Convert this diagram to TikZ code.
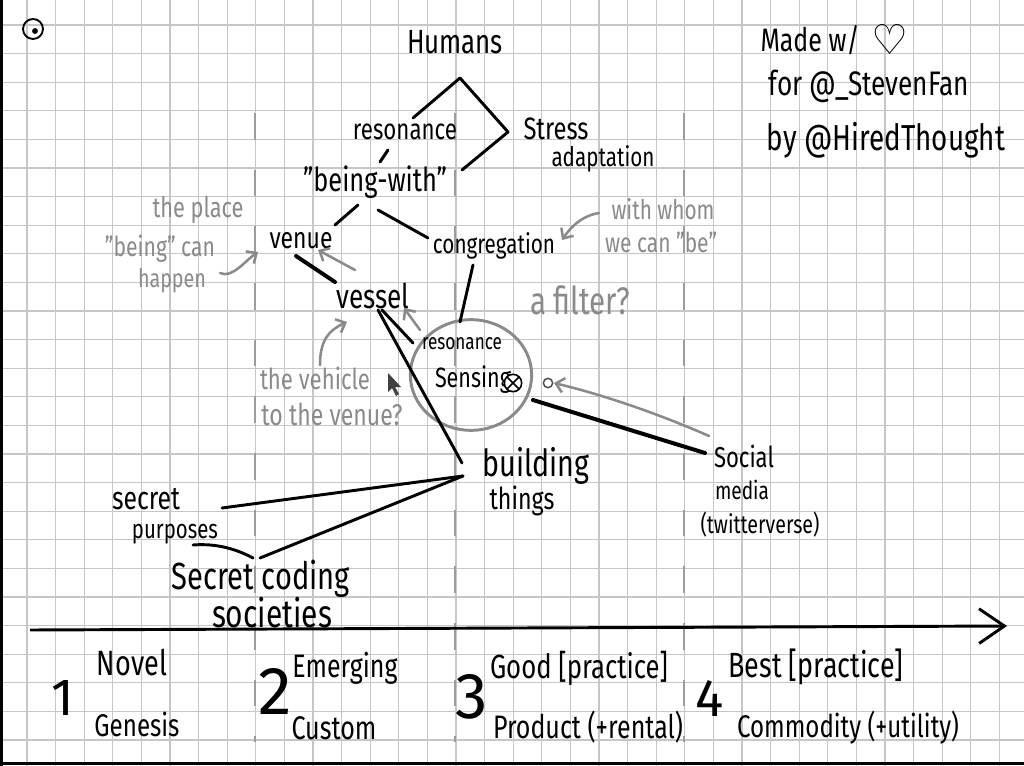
\documentclass[tikz,border=0pt]{standalone}
\usepackage{fontspec}
\usepackage{graphicx}
\setmainfont{Fira Sans}
\newfontfamily\symfont{DejaVu Sans}
\usetikzlibrary{arrows.meta,shapes.geometric}
\definecolor{notegray}{HTML}{8A8A8A}
\definecolor{gridc}{HTML}{C6C6C6}
\definecolor{dashc}{HTML}{9C9C9C}
\newcommand\fw[2]{\scalebox{1}[1.3]{\resizebox{\dimexpr 0.75pt*#1\relax}{!}{#2}}}
\newcommand\fh[2]{\resizebox{!}{\dimexpr 0.75pt*#1\relax}{#2}}
\begin{document}
\begin{tikzpicture}[x=0.75pt,y=-0.75pt,
  every node/.style={inner sep=0pt,outer sep=0pt},
  hw/.style={text=black},
  note/.style={text=notegray},
  gridline/.style={draw=gridc,line width=0.9pt},
  dashline/.style={draw=dashc,line width=1.6pt,dash pattern=on 20pt off 22.5pt},
  edge/.style={draw=black,line width=2.2pt,line cap=round,line join=round},
  garrow/.style={draw=notegray,line width=1.9pt,line cap=round,-{Straight Barb[length=6pt,width=11pt,line width=1.9pt]}}]
\useasboundingbox (0,0) rectangle (1024,766);
\fill[white] (0,0) rectangle (1024,766);
% grid
\foreach \i in {0,...,35} \draw[gridline] ({27+28.6*\i},0) -- ({27+28.6*\i},766);
\foreach \j in {0,...,25} \draw[gridline] (0,{25+28.6*\j}) -- (1024,{25+28.6*\j});
% frame
\draw[line width=2.4pt] (1.5,0) -- (1.5,766);
\draw[line width=2.4pt] (0,763.5) -- (1024,763.5);
% phase dividers
\draw[dashline] (255,113) -- (255,742);
\draw[dashline] (455,113) -- (455,742);
\draw[dashline] (684,113) -- (684,742);
% target mark
\node[draw,circle,line width=1.4pt,minimum size=15pt] (target) at (33,29) {};
\fill (target) ++(2,2) circle[radius=2.2pt];

% main nodes
\node[hw] (humans) at (455,42) {\fw{96}{Humans}};
\node[hw] (res) at (405,132) {\fw{104}{resonance}};
\node[hw] (stress) at (556,129) {\fw{65}{Stress}};
\node[hw] (adapt) at (603,159) {\fw{103}{adaptation}};
\node[hw] (being) at (375,182) {\fw{144}{"being-with"}};
\node[hw] (venue) at (301,241) {\fw{63}{venue}};
\node[hw] (congr) at (494,246) {\fw{122}{congregation}};
\node[hw] (vessel) at (373,296) {\fw{73}{vessel}};
\node[note] (place1) at (198,210) {\fw{91}{the place}};
\node[note] (place2) at (160,249) {\fw{110}{"being" can}};
\node[note] (place3) at (172,281) {\fw{68}{happen}};
\node[note] (whom1) at (663,209) {\fw{103}{with whom}};
\node[note] (whom2) at (661,242) {\fw{112}{we can "be"}};
\node[note] (filter) at (580,300) {\fw{100}{a filter?}};
\node[draw=notegray,line width=2.2pt,ellipse,minimum width=91pt,minimum height=83pt] (circ) at (471,375) {};
\node[hw] (rs1) at (462,344) {\fw{80}{resonance}};
\node[hw] (rs2) at (473,380) {\fw{76}{Sensing}};
\node[draw,fill=white,circle,line width=1.2pt,minimum size=13pt] (otimes) at (513,383) {};
\draw[line width=1.2pt] (otimes.45) -- (otimes.225) (otimes.135) -- (otimes.-45);
\node[draw=black!70,fill=white,circle,line width=1.1pt,minimum size=7pt] (smallc) at (548,383) {};
\fill[black!75] (388,373) -- (388,392) -- (392,388) -- (396,396) -- (399,394) -- (395,387) -- (401,387) -- cycle;
\node[note] (veh1) at (315,378) {\fw{110}{the vehicle}};
\node[note] (veh2) at (332,414) {\fw{141}{to the venue?}};
\node[hw] (build1) at (536,466) {\fw{107}{building}};
\node[hw] (build2) at (522,501) {\fw{65}{things}};
\node[hw] (soc1) at (744,456) {\fw{60}{Social}};
\node[hw] (soc2) at (742,490) {\fw{54}{media}};
\node[hw] (soc3) at (760,525) {\fw{119}{(twitterverse)}};
\node[hw] (sec1) at (146,499) {\fw{68}{secret}};
\node[hw] (sec2) at (175,534) {\fw{86}{purposes}};
\node[hw] (scs1) at (261,579) {\fw{178}{Secret coding}};
\node[hw] (scs2) at (272,613) {\fw{120}{societies}};

% axis
\coordinate (axL) at (30,630);
\coordinate (axR) at (1007,626);
\draw[line width=2.2pt,-{Straight Barb[length=19pt,width=26pt,line width=2.2pt]}] (axL) -- (axR);

% phases
\node[hw] (n1) at (63,698) {\fh{35}{1}};
\node[hw] (novel) at (132,663) {\fw{70}{Novel}};
\node[hw] (genesis) at (137,724) {\fw{85}{Genesis}};
\node[hw] (n2) at (275,691) {\fh{46}{2}};
\node[hw] (emerging) at (345,668) {\fw{105}{Emerging}};
\node[hw] (custom) at (334,728) {\fw{85}{Custom}};
\node[hw] (n3) at (472,697) {\fh{44}{3}};
\node[hw] (good) at (579,668) {\fw{178}{Good [practice]}};
\node[hw] (product) at (588,727) {\fw{190}{Product (+rental)}};
\node[hw] (n4) at (710,698) {\fh{36}{4}};
\node[hw] (best) at (816,667) {\fw{175}{Best [practice]}};
\node[hw] (commodity) at (848,728) {\fw{222}{Commodity (+utility)}};

% credits
\node[hw] (made) at (810,40) {\fw{99}{Made w/}};
\node[hw] (heart) at (890,40) {\fh{30}{\symfont ♡}};
\node[hw] (forsf) at (869,86) {\fw{200}{for @\_StevenFan}};
\node[hw] (byht) at (886,140) {\fw{238}{by @HiredThought}};

% black connectors
\coordinate (apex) at ([shift={(5,36)}]humans.center);
\draw[edge] ([shift={(8,-14)}]res.center) -- (apex) -- ([shift={(-48,3)}]stress.center) -- ([shift={(87,-12)}]being.center);
\draw[edge] ([shift={(-17,18)}]res.center) -- ([shift={(5,-20)}]being.center);
\draw[edge] ([shift={(-17,23)}]being.center) -- ([shift={(34,-16)}]venue.center);
\draw[edge] ([shift={(3,28)}]being.center) -- ([shift={(-66,-8)}]congr.center);
\draw[edge,line width=3pt] ([shift={(-5,15)}]venue.center) -- ([shift={(-38,-14)}]vessel.center);
\draw[edge] ([shift={(-21,19)}]congr.center) -- ([shift={(-11,-53)}]circ.center);
\draw[edge] ([shift={(5,14)}]vessel.center) -- ([shift={(-74,-3)}]build1.center);
\draw[edge] ([shift={(9,14)}]vessel.center) -- ([shift={(-58,-32)}]circ.center);
\draw[edge,line width=3pt] ([shift={(62,25)}]circ.center) -- ([shift={(-39,-3)}]soc1.center);
\draw[edge] ([shift={(-73,10)}]build1.center) -- ([shift={(47,-26)}]sec2.center);
\draw[edge] ([shift={(-73,10)}]build1.center) -- ([shift={(-1,-21)}]scs1.center);
\draw[edge] ([shift={(18,11)}]sec2.center) .. controls +(25,-2) and +(-15,-8) .. ([shift={(-8,-21)}]scs1.center);

% gray arrows
\draw[garrow] ([shift={(48,-8)}]place3.center) .. controls +(12,6) and +(-12,8) .. ([shift={(-43,11)}]venue.center);
\draw[garrow] ([shift={(-18,-26)}]vessel.center) -- ([shift={(17,9)}]venue.center);
\draw[garrow] ([shift={(-51,-45)}]circ.center) -- ([shift={(31,12)}]vessel.center);
\draw[garrow] ([shift={(5,-13)}]veh1.center) .. controls +(0,-25) and +(-18,8) .. ([shift={(-26,26)}]vessel.center);
\draw[garrow] ([shift={(-64,4)}]whom1.center) .. controls +(-18,3) and +(8,-12) .. ([shift={(68,-6)}]congr.center);
\draw[garrow] ([shift={(-35,-20)}]soc1.center) .. controls +(-50,-22) and +(50,12) .. ([shift={(6,0)}]smallc.center);
\end{tikzpicture}
\end{document}
